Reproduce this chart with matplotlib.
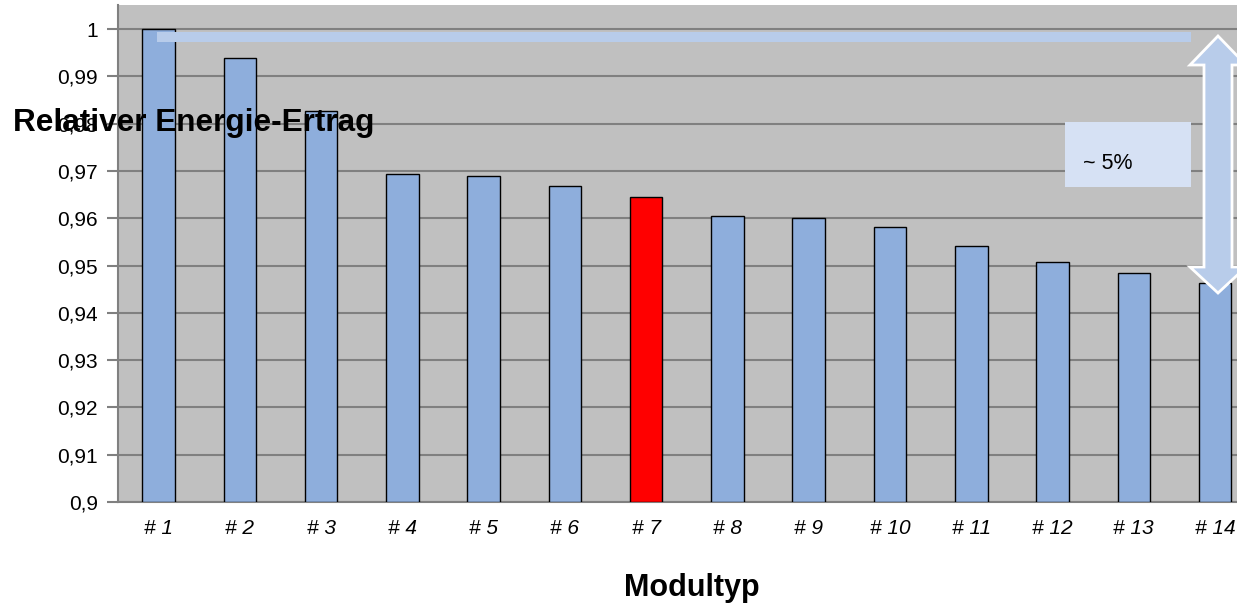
import matplotlib
matplotlib.use("Agg")
import matplotlib.pyplot as plt
from matplotlib.patches import Polygon, Rectangle
import numpy as np

plt.rcParams['font.family'] = ['Liberation Sans', 'DejaVu Sans']

categories = ["# 1", "# 2", "# 3", "# 4", "# 5", "# 6", "# 7", "# 8", "# 9", "# 10", "# 11", "# 12", "# 13", "# 14"]
values = [1.0, 0.9939, 0.9827, 0.9693, 0.9689, 0.9668, 0.9646, 0.9605, 0.9600, 0.9581, 0.9541, 0.9507, 0.9484, 0.9463]
highlight = "# 7"
yticks = [0.9, 0.91, 0.92, 0.93, 0.94, 0.95, 0.96, 0.97, 0.98, 0.99, 1.0]
ytick_labels = ["0,9", "0,91", "0,92", "0,93", "0,94", "0,95", "0,96", "0,97", "0,98", "0,99", "1"]

W, H = 1237, 607
fig = plt.figure(figsize=(W / 100, H / 100), dpi=100)
ax = fig.add_axes([118 / W, (H - 502) / H, 1 - 118 / W, (502 - 5) / H])
ax.set_facecolor("#C0C0C0")

x = np.arange(1, len(categories) + 1)
colors = ["#FF0000" if c == highlight else "#8EAEDC" for c in categories]
ax.bar(x, [v - 0.9 for v in values], bottom=0.9, width=0.4, color=colors,
       edgecolor="black", linewidth=1, zorder=3)

ax.set_ylim(0.9, 1.0051)
ax.set_xlim(0.5, 14.27)
ax.set_yticks(yticks)
ax.set_yticklabels(ytick_labels, fontsize=15)
ax.set_xticks(x)
ax.set_xticklabels(categories, fontsize=15, style="italic")
ax.yaxis.grid(True, color="#808080", linewidth=1.5, zorder=1)
ax.set_axisbelow(True)
for s in ["top", "right"]:
    ax.spines[s].set_visible(False)
ax.spines["left"].set_color("#808080")
ax.spines["left"].set_linewidth(1.5)
ax.spines["bottom"].set_color("#808080")
ax.spines["bottom"].set_linewidth(1.5)
ax.tick_params(axis="y", length=8, width=1.5, color="#808080", pad=6.5)
ax.tick_params(axis="x", length=0, pad=12)

def fx(px):
    return px / W

def fy(py):
    return 1 - py / H

# horizontal band
fig.patches.append(Rectangle((fx(157), fy(42.3)), fx(1191) - fx(157), fy(31.7) - fy(42.3),
                             transform=fig.transFigure, facecolor="#B8CCEA", edgecolor="none", zorder=5))

# double-headed arrow
cx = 1218
hw = 14
hh = 28
pts = [(cx, 36), (cx + hh, 65), (cx + hw, 65), (cx + hw, 267), (cx + hh, 267), (cx, 293),
       (cx - hh, 267), (cx - hw, 267), (cx - hw, 65), (cx - hh, 65)]
fig.patches.append(Polygon([(fx(a), fy(b)) for a, b in pts], closed=True, transform=fig.transFigure,
                           facecolor="#B8CCEA", edgecolor="white", linewidth=2, zorder=6))

# text box
fig.patches.append(Rectangle((fx(1065), fy(187)), fx(1191) - fx(1065), fy(122) - fy(187),
                             transform=fig.transFigure, facecolor="#D6E1F4", edgecolor="none", zorder=5))
fig.text(fx(1083), fy(163), "~ 5%", fontsize=15.5, ha="left", va="center", zorder=7)

fig.text(fx(13), fy(123), "Relativer Energie-Ertrag", fontsize=22.7, fontweight="bold",
         ha="left", va="center", zorder=8)
fig.text(fx(692), fy(588), "Modultyp", fontsize=22, fontweight="bold", ha="center", va="center")

fig.savefig("out.png", dpi=100)
